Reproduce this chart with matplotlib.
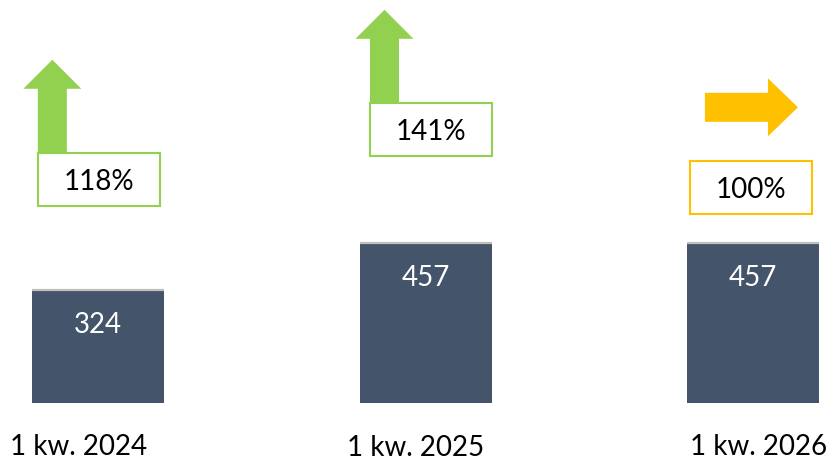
import numpy as np
import matplotlib.pyplot as plt
from matplotlib.patches import Rectangle

# data
categories = ["1 kw. 2024", "1 kw. 2025", "1 kw. 2026"]
values = [324, 457, 457]
ratio_labels = ["118%", "141%", "100%"]
trend = ["up", "up", "flat"]

# layout (data units of the axes below)
box_dx = [0.003, 0.017, -0.005]
box_bottom = [564, 707, 541]
label_dx = [-0.060, -0.029, 0.018]
label_y = [-148, -153, -148]

bar_color = "#44546A"
green = "#92D050"
yellow = "#FFC000"

plt.rcParams["font.family"] = ["Lato", "DejaVu Sans"]

fig = plt.figure(figsize=(8.33, 4.62), dpi=100)
ax = fig.add_axes([0, 0, 1, 1])
ax.set_xlim(-0.299, 2.244)
ax.set_ylim(-168.8, 1153)
ax.axis("off")

x = np.arange(len(categories))
bw = 0.403
ax.bar(x, values, width=bw, color=bar_color, zorder=2)
# light grey edge on top of the bars
ax.hlines(values, x - bw / 2, x + bw / 2, color="#BFBFBF", lw=1.6, zorder=3)

for xi, v in zip(x, values):
    ax.annotate(str(v), (xi, v), xytext=(0, -31), textcoords="offset points",
                ha="center", va="baseline", color="white", fontsize=20)

# category labels
for xi, cat, dx, ly in zip(x, categories, label_dx, label_y):
    ax.text(xi + dx, ly, cat, ha="center", va="baseline", fontsize=20, color="black")

# ratio boxes with arrows
box_w = 0.3725
box_h = 152
for xi, lab, tr, dx, bb in zip(x, ratio_labels, trend, box_dx, box_bottom):
    col = green if tr == "up" else yellow
    left = xi + dx - box_w / 2
    if tr == "up":
        ax.arrow(left + 0.044, bb + box_h, 0, 266, width=0.0886, head_width=0.177,
                 head_length=83, length_includes_head=True, color=col, lw=0, zorder=2)
    else:
        ax.arrow(xi + dx - 0.142, bb + box_h + 153, 0.284, 0, width=83, head_width=166,
                 head_length=0.0916, length_includes_head=True, color=col, lw=0, zorder=2)
    ax.add_patch(Rectangle((left, bb), box_w, box_h, facecolor="white",
                           edgecolor=col, lw=1.5, zorder=3))
    ax.annotate(lab, (xi + dx, bb), xytext=(0, 11.5), textcoords="offset points",
                ha="center", va="baseline", fontsize=20, color="black", zorder=4)

fig.savefig("out.png", dpi=100)
